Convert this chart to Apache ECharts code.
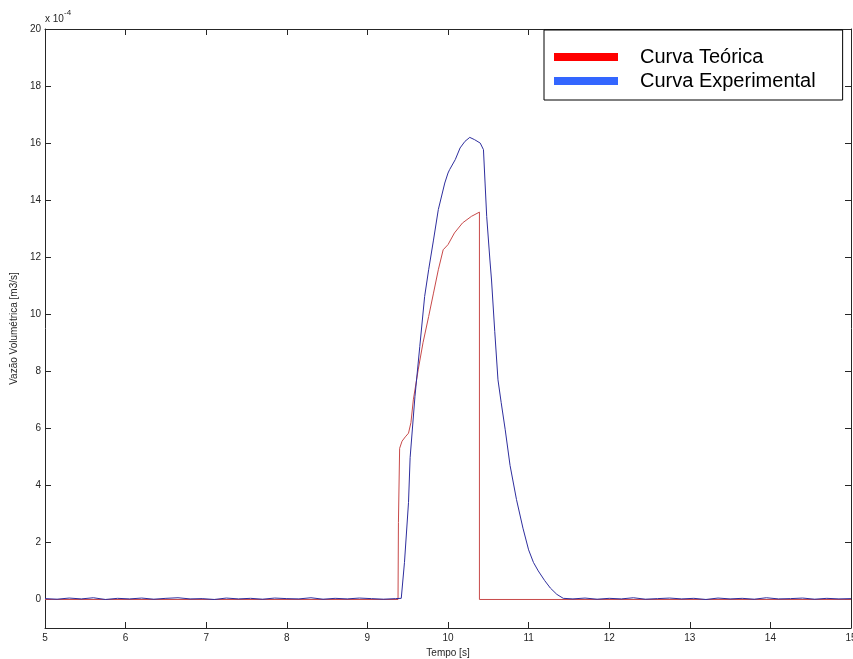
<!DOCTYPE html>
<html>
<head>
<meta charset="utf-8">
<script src="https://cdn.jsdelivr.net/npm/echarts@6/dist/echarts.min.js"></script>
<style>
  html, body { margin: 0; padding: 0; background: #ffffff; }
  #chart { width: 853px; height: 659px; }
</style>
</head>
<body>
<div id="chart"></div>
<script>
// Volumetric flow rate (units of 1e-4 m3/s) against time (s)
const seriesNames = ['Curva Teórica', 'Curva Experimental'];

// Theoretical curve: [time, flow]
const teorica = [
  [5.00, 0], [9.38, 0], [9.385, 2.7], [9.40, 5.30], [9.43, 5.55], [9.47, 5.70],
  [9.51, 5.83], [9.54, 6.20], [9.57, 7.00], [9.63, 8.05], [9.69, 9.00], [9.76, 9.92],
  [9.82, 10.74], [9.88, 11.56], [9.94, 12.26], [10.00, 12.44], [10.08, 12.85],
  [10.18, 13.20], [10.29, 13.43], [10.39, 13.58], [10.39, 0], [15.00, 0]
];

// Measured curve: [time, flow]
const experimental = [
  [5.00, 0.03], [5.15, 0.01], [5.30, 0.05], [5.45, 0.02], [5.60, 0.06], [5.75, 0.00],
  [5.90, 0.04], [6.05, 0.02], [6.20, 0.05], [6.35, 0.01], [6.50, 0.04], [6.65, 0.06],
  [6.80, 0.02], [6.95, 0.03], [7.10, 0.00], [7.25, 0.05], [7.40, 0.02], [7.55, 0.04],
  [7.70, 0.01], [7.85, 0.05], [8.00, 0.03], [8.15, 0.02], [8.30, 0.06], [8.45, 0.01],
  [8.60, 0.04], [8.75, 0.02], [8.90, 0.05], [9.05, 0.03], [9.20, 0.01], [9.35, 0.03],
  [9.42, 0.04], [9.46, 1.30], [9.51, 3.40], [9.53, 4.97], [9.59, 7.12], [9.65, 8.87],
  [9.71, 10.62], [9.76, 11.56], [9.82, 12.60], [9.88, 13.67], [9.96, 14.60],
  [10.00, 14.95], [10.02, 15.07], [10.09, 15.42], [10.15, 15.83], [10.21, 16.06],
  [10.27, 16.20], [10.33, 16.12], [10.40, 16.00], [10.44, 15.77], [10.46, 14.60],
  [10.48, 13.43], [10.52, 11.90], [10.54, 11.20], [10.58, 9.40], [10.62, 7.70],
  [10.66, 6.90], [10.71, 5.95], [10.77, 4.70], [10.85, 3.50], [10.93, 2.50],
  [11.00, 1.74], [11.06, 1.30], [11.12, 1.00], [11.20, 0.66], [11.27, 0.40],
  [11.35, 0.18], [11.43, 0.04], [11.55, 0.02],
  [11.70, 0.05], [11.85, 0.01], [12.00, 0.04], [12.15, 0.02], [12.30, 0.06],
  [12.45, 0.01], [12.60, 0.03], [12.75, 0.05], [12.90, 0.02], [13.05, 0.04],
  [13.20, 0.00], [13.35, 0.05], [13.50, 0.02], [13.65, 0.04], [13.80, 0.01],
  [13.95, 0.06], [14.10, 0.02], [14.25, 0.03], [14.40, 0.05], [14.55, 0.01],
  [14.70, 0.04], [14.85, 0.02], [15.00, 0.03]
];

// Tick values
const xTicks = [5, 6, 7, 8, 9, 10, 11, 12, 13, 14, 15];
const yTicks = [0, 2, 4, 6, 8, 10, 12, 14, 16, 18, 20];

const axisColor = '#262626';
const font = 'Arial, "Liberation Sans", sans-serif';

const chart = echarts.init(document.getElementById('chart'), null, { renderer: 'canvas' });

const baseX = {
  type: 'value', min: xTicks[0], max: xTicks[xTicks.length - 1], interval: 1,
  axisLine: { onZero: false, lineStyle: { color: axisColor, width: 1 } },
  axisTick: { inside: true, length: 6, lineStyle: { color: axisColor } },
  splitLine: { show: false }
};
const baseY = {
  type: 'value', min: -1, max: 20,
  axisLine: { show: true, onZero: false, lineStyle: { color: axisColor, width: 1 } },
  axisTick: { show: true, inside: true, length: 6, customValues: yTicks, lineStyle: { color: axisColor } },
  splitLine: { show: false }
};

chart.setOption({
  animation: false,
  backgroundColor: '#ffffff',
  grid: { left: 45, right: 2, top: 29, bottom: 31, containLabel: false, outerBoundsMode: 'none' },
  xAxis: [
    Object.assign({}, baseX, {
      position: 'bottom',
      name: 'Tempo [s]', nameLocation: 'middle', nameGap: 19,
      nameTextStyle: { fontFamily: font, fontSize: 10, color: axisColor },
      axisLabel: { margin: 5, fontFamily: font, fontSize: 10, color: axisColor }
    }),
    Object.assign({}, baseX, { position: 'top', axisLabel: { show: false } })
  ],
  yAxis: [
    Object.assign({}, baseY, {
      position: 'left',
      name: 'Vazão Volumétrica [m3/s]', nameLocation: 'middle', nameGap: 18,
      nameTextStyle: { fontFamily: font, fontSize: 10, color: axisColor },
      axisLabel: { margin: 4, customValues: yTicks, fontFamily: font, fontSize: 10, color: axisColor }
    }),
    Object.assign({}, baseY, { position: 'right', axisLabel: { show: false } })
  ],
  legend: {
    orient: 'vertical',
    left: 544, top: 30,
    padding: [17, 27, 9, 10],
    itemGap: 4,
    itemWidth: 64, itemHeight: 8,
    icon: 'rect',
    borderColor: '#000000', borderWidth: 1,
    backgroundColor: '#ffffff',
    selectedMode: false,
    textStyle: { fontFamily: font, fontSize: 20, color: '#000000', padding: [0, 0, 0, 17] },
    data: [
      { name: seriesNames[0], itemStyle: { color: '#ff0000' } },
      { name: seriesNames[1], itemStyle: { color: '#3366ff' } }
    ]
  },
  graphic: [
    { type: 'text', left: 45, top: 14, style: { text: 'x 10', font: '10px ' + font, fill: axisColor } },
    { type: 'text', left: 64, top: 9, style: { text: '-4', font: '8px ' + font, fill: axisColor } }
  ],
  series: [
    {
      name: seriesNames[0], type: 'line', data: teorica,
      xAxisIndex: 0, yAxisIndex: 0,
      showSymbol: false, symbol: 'none',
      lineStyle: { color: '#c84a4a', width: 1 },
      itemStyle: { color: '#c84a4a' }
    },
    {
      name: seriesNames[1], type: 'line', data: experimental,
      xAxisIndex: 0, yAxisIndex: 0,
      showSymbol: false, symbol: 'none',
      lineStyle: { color: '#2e2e9e', width: 1 },
      itemStyle: { color: '#2e2e9e' }
    }
  ]
});
</script>
</body>
</html>
